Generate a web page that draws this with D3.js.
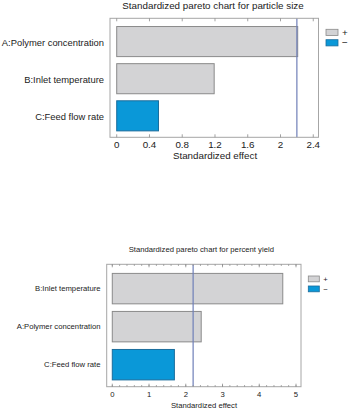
<!DOCTYPE html>
<html>
<head>
<meta charset="utf-8">
<script src="https://cdn.jsdelivr.net/npm/d3@7"></script>
<style>
  html, body { margin: 0; padding: 0; background: #fff; }
  svg { display: block; }
  text { font-family: "Liberation Sans", Arial, sans-serif; fill: #222; }
</style>
</head>
<body>
<svg id="chart" width="349" height="412"></svg>
<script>
// ---- Data ----
const topTitle = "Standardized pareto chart for particle size";
const topCategories = ["A:Polymer concentration", "B:Inlet temperature", "C:Feed flow rate"];
const topEffects = [2.21, 1.19, 0.51];
const topSigns = ["+", "+", "-"];
const topTicks = [0, 0.4, 0.8, 1.2, 1.6, 2, 2.4];
const topTickLabels = ["0", "0.4", "0.8", "1.2", "1.6", "2", "2.4"];

const bottomTitle = "Standardized pareto chart for percent yield";
const bottomCategories = ["B:Inlet temperature", "A:Polymer concentration", "C:Feed flow rate"];
const bottomEffects = [4.64, 2.42, 1.69];
const bottomSigns = ["+", "+", "-"];
const bottomTicks = [0, 1, 2, 3, 4, 5];
const bottomTickLabels = ["0", "1", "2", "3", "4", "5"];
const bottomMinorTicks = d3.range(0, 5.01, 0.2);

const criticalValue = 2.2;
const xLabel = "Standardized effect";
const legendSigns = ["+", "\u2212"];

// ---- Styles ----
const colors = { "+": "#d3d3d5", "-": "#0a98d8" };
const strokes = { "+": "#8a8a8a", "-": "#1a6c9c" };

const svg = d3.select("#chart");

function drawChart(cfg) {
  const g = svg.append("g");
  const x = d3.scaleLinear().domain(cfg.xDomain).range([cfg.left, cfg.right]);
  const y = d3.scaleBand().domain(cfg.categories).range(cfg.bandRange)
    .paddingInner(cfg.padInner).paddingOuter(cfg.padOuter);
  const fs = cfg.fontSize;
  const cfs = cfg.catFontSize || fs;

  g.append("text").attr("x", cfg.titleX).attr("y", cfg.titleY)
    .attr("text-anchor", "middle").attr("font-size", fs).text(cfg.title);

  g.selectAll("rect.bar").data(cfg.categories).enter().append("rect")
    .attr("class", "bar")
    .attr("x", x(0))
    .attr("y", d => y(d))
    .attr("width", (d, i) => x(cfg.effects[i]) - x(0))
    .attr("height", y.bandwidth())
    .attr("fill", (d, i) => colors[cfg.signs[i]])
    .attr("stroke", (d, i) => strokes[cfg.signs[i]])
    .attr("stroke-width", 1);

  g.append("line")
    .attr("x1", x(criticalValue)).attr("x2", x(criticalValue))
    .attr("y1", cfg.top).attr("y2", cfg.bottom)
    .attr("stroke", "#6f7fb8").attr("stroke-width", 1.2);

  g.append("rect").attr("x", cfg.left).attr("y", cfg.top)
    .attr("width", cfg.right - cfg.left).attr("height", cfg.bottom - cfg.top)
    .attr("fill", "none").attr("stroke", "#a6a6a6").attr("stroke-width", 1);

  const tickG = g.append("g").attr("stroke", "#8c8c8c").attr("stroke-width", 0.8);
  cfg.ticks.forEach(t => {
    tickG.append("line").attr("x1", x(t)).attr("x2", x(t)).attr("y1", cfg.bottom).attr("y2", cfg.bottom - 3);
    tickG.append("line").attr("x1", x(t)).attr("x2", x(t)).attr("y1", cfg.top).attr("y2", cfg.top + 3);
  });
  (cfg.minorTicks || []).forEach(t => {
    tickG.append("line").attr("x1", x(t)).attr("x2", x(t)).attr("y1", cfg.bottom).attr("y2", cfg.bottom - 1.6);
    tickG.append("line").attr("x1", x(t)).attr("x2", x(t)).attr("y1", cfg.top).attr("y2", cfg.top + 1.6);
  });

  g.selectAll("text.tl").data(cfg.ticks).enter().append("text")
    .attr("class", "tl")
    .attr("x", d => x(d)).attr("y", cfg.tickLabelY)
    .attr("text-anchor", "middle").attr("font-size", fs)
    .text((d, i) => cfg.tickLabels[i]);

  g.append("text").attr("x", cfg.xLabelX).attr("y", cfg.xLabelY)
    .attr("text-anchor", "middle").attr("font-size", fs).text(xLabel);

  g.selectAll("text.cat").data(cfg.categories).enter().append("text")
    .attr("class", "cat")
    .attr("x", cfg.catX)
    .attr("y", d => y(d) + y.bandwidth() / 2 + cfs * 0.35 + cfg.catDy)
    .attr("text-anchor", "end").attr("font-size", cfs).text(d => d);

  const lg = g.append("g");
  ["+", "-"].forEach((s, i) => {
    lg.append("rect").attr("x", cfg.legX).attr("y", cfg.legY + i * cfg.legStep)
      .attr("width", cfg.legW).attr("height", cfg.legH)
      .attr("fill", colors[s]).attr("stroke", strokes[s]).attr("stroke-width", 0.8);
    lg.append("text").attr("x", cfg.legX + cfg.legW + 4)
      .attr("y", cfg.legY + i * cfg.legStep + cfg.legH / 2 + fs * 0.35)
      .attr("font-size", fs).text(legendSigns[i]);
  });
}

drawChart({
  title: topTitle, categories: topCategories, effects: topEffects, signs: topSigns,
  ticks: topTicks, tickLabels: topTickLabels,
  xDomain: [-0.082, 2.464], left: 110, right: 318.5, top: 18.3, bottom: 137.3,
  bandRange: [23.0, 134.4], padInner: 0.19, padOuter: 0.095,
  fontSize: 9.8, catFontSize: 9.4, titleX: 213, titleY: 8.6, tickLabelY: 148.4, xLabelX: 215, xLabelY: 159,
  catX: 104, catDy: 1,
  legX: 326, legY: 29.3, legStep: 10.4, legW: 12, legH: 6.2
});

drawChart({
  title: bottomTitle, categories: bottomCategories, effects: bottomEffects, signs: bottomSigns,
  ticks: bottomTicks, tickLabels: bottomTickLabels, minorTicks: bottomMinorTicks,
  xDomain: [-0.152, 5.136], left: 106.7, right: 301, top: 264.3, bottom: 386.7,
  bandRange: [269.6, 383.7], padInner: 0.2, padOuter: 0.1,
  fontSize: 7.7, titleX: 201.3, titleY: 252, tickLabelY: 397, xLabelX: 204, xLabelY: 407.7,
  catX: 100.5, catDy: 0,
  legX: 308.3, legY: 276, legStep: 10, legW: 11, legH: 5.8
});
</script>
</body>
</html>
